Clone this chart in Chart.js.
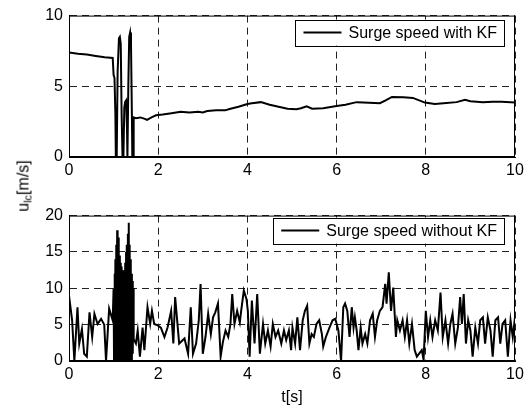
<!DOCTYPE html>
<html>
<head>
<meta charset="utf-8">
<script src="https://cdn.jsdelivr.net/npm/chart.js@4.4.1/dist/chart.umd.min.js"></script>
<style>
  body { margin: 0; background: #fff; }
  #wrap { position: relative; width: 530px; height: 412px; font-family: "Liberation Sans", Arial, sans-serif; }
  #top, #bottom { position: absolute; left: 0; }
  #top { top: 0; }
  #bottom { top: 200px; }
  #ylab { position: absolute; left: 24px; top: 186px; transform: translate(-50%, -50%) rotate(-90deg); font-size: 16px; white-space: nowrap; color: #000; }
  #ylab sub { font-size: 11px; vertical-align: -3px; }
</style>
</head>
<body>
<div id="wrap">
  <div id="top"><canvas id="c1" width="530" height="190"></canvas></div>
  <div id="bottom"><canvas id="c2" width="530" height="212"></canvas></div>
  <div id="ylab">u<sub>lc</sub>[m/s]</div>
</div>
<script>
// 数据: 上图 (with KF)
const tKF = [0, 0.2, 0.4, 0.6, 0.8, 0.98, 1.0, 1.02, 1.04, 1.05, 1.07, 1.09, 1.12, 1.14, 1.16, 1.18, 1.2, 1.22, 1.24, 1.26, 1.28, 1.3, 1.31, 1.33, 1.35, 1.37, 1.39, 1.41, 1.42, 1.44, 1.45,
  1.5, 1.6, 1.7, 1.75, 1.85, 1.95, 2.1, 2.3, 2.5, 2.7, 2.9, 3.0, 3.1, 3.3, 3.5, 3.6, 3.8, 4.0, 4.1, 4.3, 4.5, 4.7, 4.9, 5.1, 5.2, 5.33, 5.45, 5.7, 6.0, 6.2, 6.45, 6.6, 6.97, 7.1, 7.24, 7.5, 7.71, 7.98, 8.2, 8.4, 8.69, 8.88, 9.0, 9.28, 9.5, 9.7, 10];
const uKF = [7.4, 7.3, 7.25, 7.15, 7.05, 7.0, 5.8, 5.6, 3.0, 0, 0, 6, 8.4, 8.5, 8.0, 3, 0, 0, 3.5, 3.9, 4.0, 2.0, 0, 5, 8.5, 8.8, 8.0, 3, 0, 0, 2.8,
  2.75, 2.8, 2.7, 2.62, 2.8, 2.95, 3.0, 3.1, 3.2, 3.15, 3.2, 3.15, 3.25, 3.3, 3.3, 3.4, 3.55, 3.75, 3.8, 3.88, 3.7, 3.55, 3.42, 3.38, 3.45, 3.58, 3.42, 3.45, 3.6, 3.7, 3.88, 3.85, 3.8, 4.0, 4.25, 4.22, 4.18, 3.85, 3.75, 3.8, 3.88, 4.05, 3.95, 3.87, 3.9, 3.9, 3.85];

// 数据: 下图 (without KF)
const tRaw = [0, 0.07, 0.12, 0.19, 0.23, 0.29, 0.34, 0.40, 0.46, 0.52, 0.57, 0.64, 0.72, 0.79, 0.83, 0.90, 0.98,
  1.00, 1.01, 1.02, 1.03, 1.04, 1.05, 1.06, 1.07, 1.08, 1.09, 1.10, 1.11, 1.12, 1.13, 1.14, 1.15, 1.16, 1.17, 1.18, 1.19, 1.20, 1.21, 1.22, 1.23, 1.24, 1.25, 1.26, 1.27, 1.28, 1.29, 1.30, 1.31, 1.32, 1.33, 1.34, 1.35, 1.36, 1.37, 1.38, 1.39, 1.40, 1.41, 1.42, 1.43, 1.44, 1.45,
  1.50, 1.54, 1.59, 1.65, 1.69, 1.76, 1.82, 1.86, 1.91, 1.99, 2.06, 2.14, 2.21, 2.29, 2.34, 2.38, 2.47,
  2.59, 2.67, 2.73, 2.78, 2.85, 2.91, 2.95, 3.00, 3.06, 3.12, 3.18, 3.23, 3.28, 3.34, 3.40, 3.45, 3.51, 3.57, 3.62, 3.66, 3.71, 3.77, 3.83, 3.86, 3.92, 3.98, 4.01, 4.05, 4.10, 4.16, 4.22, 4.28, 4.35, 4.40, 4.46, 4.52, 4.57, 4.63, 4.69, 4.76, 4.82, 4.87, 4.93,
  4.98, 5.01, 5.07, 5.12, 5.18, 5.24, 5.29, 5.34, 5.39, 5.44, 5.49, 5.55, 5.61, 5.67, 5.70, 5.76, 5.84, 5.91, 5.97, 6.04, 6.10, 6.15, 6.19, 6.24, 6.29, 6.34, 6.38, 6.41, 6.45, 6.49, 6.54, 6.58, 6.64, 6.69, 6.75, 6.81, 6.86, 6.91, 6.97, 7.03, 7.09, 7.12, 7.17, 7.22, 7.27, 7.33, 7.36, 7.42, 7.48,
  7.53, 7.58, 7.63, 7.69, 7.75, 7.80, 7.85, 7.91, 7.95, 8.00, 8.05, 8.10, 8.15, 8.21, 8.27, 8.33, 8.38, 8.44, 8.50, 8.55, 8.60, 8.66, 8.72, 8.77, 8.81, 8.85, 8.90, 8.95, 9.00, 9.05, 9.11, 9.17, 9.22, 9.28, 9.33, 9.39, 9.45, 9.50, 9.56, 9.62, 9.67, 9.72, 9.78, 9.84, 9.90, 9.95, 10.0];
const uRaw = [9.0, 5.6, 0, 7.4, 2.4, 4.4, 1.0, 0.6, 6.7, 3.3, 6.5, 5.1, 5.8, 5.0, 0, 7.2, 5.6,
  10, 0, 12, 1, 14, 0, 16, 2, 18, 0, 17, 1, 15.5, 0, 14.5, 2, 13.5, 0, 13, 1, 12.5, 0, 12, 2, 12.5, 0, 13.5, 1, 15, 0, 16, 2, 17.5, 0, 19, 1, 16, 0, 14, 2, 12, 0, 11, 1, 10, 3,
  2.4, 4.2, 0.6, 4.6, 1.5, 7.4, 5.1, 6.9, 5.1, 4.9, 4.6, 3.3, 4.6, 6.9, 2.4, 8.8, 2.4,
  3.1, 1.0, 7.4, 1.0, 2.4, 5.6, 10.6, 1.0, 3.3, 6.5, 3.7, 6.0, 6.7, 7.9, 0.6, 2.6, 4.2, 3.3, 5.1, 9.2, 5.1, 6.9, 5.3, 6.9, 9.7, 8.5, 6.9, 0.6, 8.3, 2.4, 9.2, 1.0, 5.1, 2.4, 4.2, 2.0, 5.1, 3.3, 4.2, 2.4, 4.2, 2.9, 4.2,
  1.5, 4.6, 2.4, 6.0, 1.5, 5.6, 6.9, 7.6, 2.4, 3.7, 3.3, 5.1, 5.6, 3.7, 2.0, 3.3, 4.6, 5.6, 5.8, 4.2, 0, 7.4, 7.9, 6.9, 3.3, 7.4, 4.6, 6.0, 4.2, 1.5, 4.6, 2.4, 3.7, 2.4, 5.6, 6.5, 3.3, 5.6, 6.9, 7.4, 10.6, 7.9, 12.2, 6.9, 10.1, 3.3, 5.6, 4.2, 5.6,
  3.3, 5.6, 2.4, 5.1, 1.5, 0.6, 1.0, 1.5, 0.2, 6.9, 3.3, 5.6, 3.3, 5.6, 4.2, 9.4, 3.3, 5.6, 2.4, 5.1, 6.5, 2.4, 4.6, 8.8, 5.1, 9.2, 2.4, 5.6, 4.2, 0.6, 4.6, 2.4, 5.6, 6.0, 2.4, 6.0, 4.2, 0.6, 5.6, 6.0, 2.4, 5.1, 5.6, 0.6, 5.6, 3.3, 6.0, 3.8];

const xTicks = [0, 2, 4, 6, 8, 10];
const yTicksTop = [0, 5, 10];
const yTicksBottom = [0, 5, 10, 15, 20];

const FONT = '"Liberation Sans", Arial, sans-serif';

// 外框 + 图例
const boxLegend = {
  id: 'boxLegend',
  afterDraw(chart, args, opts) {
    const ctx = chart.ctx;
    const a = chart.chartArea;
    ctx.save();
    ctx.strokeStyle = '#000';
    ctx.lineWidth = 1;
    ctx.strokeRect(a.left + 0.5, a.top + 0.5, a.right - a.left - 1, a.bottom - a.top - 1);

    const label = chart.data.datasets[0].label;
    ctx.font = '16px ' + FONT;
    const tw = ctx.measureText(label).width;
    const w = 8 + 38 + 7 + tw + 7;
    const h = 26;
    const x = a.right - opts.right - w;
    const y = a.top + opts.top;
    ctx.fillStyle = '#fff';
    ctx.fillRect(x, y, w, h);
    ctx.strokeRect(Math.round(x) + 0.5, Math.round(y) + 0.5, Math.round(w), h);
    ctx.beginPath();
    ctx.lineWidth = 2;
    ctx.moveTo(x + 8, y + h / 2);
    ctx.lineTo(x + 46, y + h / 2);
    ctx.stroke();
    ctx.fillStyle = '#000';
    ctx.textBaseline = 'middle';
    ctx.fillText(label, x + 53, y + h / 2 + 1);
    ctx.restore();
  }
};

function pts(t, u) {
  return t.map((v, i) => ({ x: v, y: u[i] }));
}

function makeChart(id, label, t, u, yMax, yTicks, padTop, xHeight, showTitle) {
  return new Chart(document.getElementById(id), {
    type: 'line',
    data: {
      datasets: [{
        label: label,
        data: pts(t, u),
        borderColor: '#000',
        borderWidth: 2,
        pointRadius: 0,
        tension: 0,
        fill: false
      }]
    },
    options: {
      responsive: false,
      animation: false,
      layout: { padding: { top: padTop, right: 15, left: 0, bottom: 0 } },
      plugins: {
        legend: { display: false },
        tooltip: { enabled: false },
        boxLegend: { right: 11, top: padTop === 10 ? 4 : 2 }
      },
      scales: {
        x: {
          type: 'linear',
          min: 0, max: 10,
          afterFit: s => { s.height = xHeight; },
          afterBuildTicks: s => { s.ticks = xTicks.map(v => ({ value: v })); },
          grid: { color: '#222', lineWidth: 1, drawTicks: false, tickBorderDash: [], },
          border: { display: true, color: '#000', dash: [7, 5] },
          ticks: { color: '#000', font: { family: FONT, size: 16 }, padding: 4, maxRotation: 0 },
          title: { display: showTitle, text: 't[s]', color: '#000', font: { family: FONT, size: 16 }, padding: { top: 0, bottom: 5 } }
        },
        y: {
          min: 0, max: yMax,
          afterFit: s => { s.width = 69; },
          afterBuildTicks: s => { s.ticks = yTicks.map(v => ({ value: v })); },
          grid: { color: '#222', lineWidth: 1, drawTicks: false },
          border: { display: true, color: '#000', dash: [7, 5] },
          ticks: { color: '#000', font: { family: FONT, size: 16 }, padding: 6 }
        }
      }
    },
    plugins: [boxLegend]
  });
}

makeChart('c1', 'Surge speed with KF', tKF, uKF, 10, yTicksTop, 10, 33, false);
makeChart('c2', 'Surge speed without KF', tRaw, uRaw, 20, yTicksBottom, 14, 51, true);
</script>
</body>
</html>
